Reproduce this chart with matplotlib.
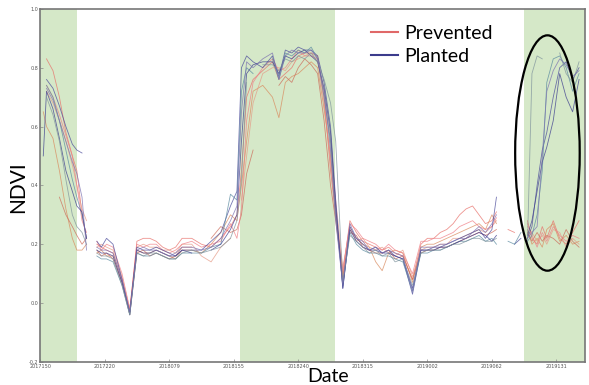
import numpy as np
import matplotlib
matplotlib.use("Agg")
import matplotlib.pyplot as plt
from matplotlib.patches import Ellipse

N = np.nan

# -------------------------
# DATES (tick units) + TICK LABELS
# -------------------------
t_a = [0.05, 0.1, 0.2, 0.3, 0.4, 0.5, 0.57, 0.65, 0.72]
t_b = [0.88, 0.95, 1.03, 1.13, 1.27, 1.39, 1.5, 1.6, 1.7, 1.8, 1.9, 2.0,
       2.1, 2.2, 2.35, 2.5, 2.65, 2.8, 2.95]
t_c = [3.05, 3.12, 3.2, 3.3, 3.45, 3.6, 3.7, 3.8, 3.9, 4.0, 4.1, 4.2,
       4.3, 4.4, 4.5, 4.58]
t_d = [4.69, 4.8, 4.9, 5.0, 5.1, 5.2, 5.3, 5.4, 5.5, 5.62, 5.77, 5.9,
       6.0, 6.1, 6.2, 6.3, 6.4, 6.5, 6.6, 6.7, 6.8, 6.9, 7.0, 7.07]
t_e = [7.25, 7.35, 7.45]
t_f = [7.55, 7.62, 7.7, 7.78, 7.85, 7.95, 8.05, 8.15, 8.25, 8.35]
dates = t_a + t_b + t_c + t_d + t_e + t_f

# acquisition gaps: lines are broken between these pieces
pieces = [len(t_a), len(t_b) + len(t_c) + len(t_d), len(t_e), len(t_f)]

tick_labels = ["2017150", "2017220", "2018079", "2018155", "2018240",
               "2018315", "2019002", "2019062", "2019131"]
y_ticks = [-0.2, 0.0, 0.2, 0.4, 0.6, 0.8, 1.0]

# growing seasons (shaded)
seasons = [(0.0, 0.57), (3.1, 4.57), (7.49, 8.44)]

# -------------------------
# PREVENTED (red) SERIES
# -------------------------
prevented_1 = ([N, 0.83, 0.79, 0.70, 0.58, 0.50, 0.45, 0.30, 0.22]
               + [0.20, 0.19, 0.18, 0.17, 0.08, -0.03, 0.21, 0.22, 0.22, 0.21, 0.19, 0.18, 0.19, 0.22, 0.22, 0.20, 0.19, 0.22, 0.26]
               + [0.30, 0.45, 0.70, 0.76, 0.79, 0.82, 0.76, 0.78, 0.80, 0.84, 0.85, 0.85, 0.84, 0.70, 0.45, 0.30]
               + [0.10, 0.28, 0.24, 0.21, 0.20, 0.19, 0.18, 0.19, 0.17, 0.16, 0.08, 0.20, 0.22, 0.22, 0.24, 0.25, 0.27, 0.30, 0.32, 0.33, 0.30, 0.27, 0.28, 0.31]
               + [0.25, 0.24, N]
               + [0.28, 0.22, 0.20, 0.26, 0.22, 0.28, 0.22, 0.20, 0.24, 0.28])
prevented_2 = ([0.65, 0.60, 0.56, 0.45, 0.32, 0.22, 0.18, 0.18, 0.20]
               + [0.17, 0.18, 0.16, 0.16, 0.07, -0.03, 0.18, 0.17, 0.17, 0.18, 0.17, 0.16, 0.15, 0.18, 0.18, 0.17, 0.20, 0.24, 0.30]
               + [0.28, 0.40, 0.55, 0.72, 0.74, 0.70, 0.63, 0.75, 0.77, 0.78, 0.80, 0.82, 0.80, 0.66, 0.50, 0.32]
               + [0.08, 0.25, 0.22, 0.20, 0.19, 0.14, 0.11, 0.17, 0.18, 0.17, 0.07, 0.19, 0.20, 0.20, 0.21, 0.22, 0.23, 0.24, 0.25, 0.26, 0.27, 0.25, 0.30, 0.27]
               + [N, N, N]
               + [0.25, 0.20, 0.22, 0.19, 0.25, 0.27, 0.21, 0.23, 0.20, 0.21])
prevented_3 = ([N, 0.72, 0.68, 0.62, 0.55, 0.47, 0.40, 0.32, 0.28]
               + [0.19, 0.20, 0.19, 0.18, 0.09, -0.02, 0.19, 0.20, 0.19, 0.19, 0.18, 0.18, 0.17, 0.20, 0.20, 0.16, 0.14, 0.19, 0.22]
               + [N, 0.35, 0.50, 0.68, 0.78, 0.80, 0.80, 0.79, 0.82, 0.83, 0.84, 0.85, 0.82, 0.72, 0.55, 0.35]
               + [0.12, 0.26, 0.21, 0.22, 0.19, 0.18, 0.19, 0.17, 0.16, 0.18, 0.09, 0.18, 0.19, 0.19, 0.20, 0.20, 0.22, 0.22, 0.23, 0.24, 0.25, 0.24, 0.26, 0.28]
               + [N, N, N]
               + [0.26, 0.24, 0.21, 0.23, 0.20, 0.25, 0.24, 0.19, 0.22, 0.20])
prevented_4 = ([N, N, N, 0.36, 0.30, 0.26, 0.23, 0.20, 0.22]
               + [0.18, 0.16, 0.17, 0.15, 0.07, -0.04, 0.17, 0.18, 0.16, 0.17, 0.16, 0.15, 0.16, 0.19, 0.19, N, 0.22, 0.26, 0.24]
               + [0.25, 0.30, 0.44, 0.52, N, N, 0.74, 0.77, 0.75, 0.80, 0.83, 0.81, 0.78, 0.62, 0.40, 0.28]
               + [0.09, 0.24, 0.23, 0.19, 0.18, 0.17, 0.17, 0.18, 0.15, 0.16, 0.08, 0.17, 0.18, 0.18, 0.19, 0.19, 0.20, 0.21, 0.22, 0.23, 0.24, 0.23, 0.24, 0.25]
               + [N, N, N]
               + [0.24, 0.21, 0.24, 0.21, 0.23, 0.22, 0.20, 0.25, 0.21, 0.19])
prevented_5 = ([N, 0.74, 0.70, 0.64, 0.57, 0.50, 0.40, 0.28, 0.24]
               + [0.21, 0.18, 0.20, 0.19, 0.10, -0.02, 0.20, 0.19, 0.20, 0.20, 0.18, 0.17, 0.18, 0.20, 0.21, 0.19, 0.20, 0.21, 0.27]
               + [0.22, 0.32, 0.62, 0.75, 0.80, 0.83, 0.79, 0.80, 0.83, 0.86, 0.84, 0.84, 0.83, 0.68, 0.48, 0.30]
               + [0.11, 0.27, 0.25, 0.22, 0.21, 0.20, 0.18, 0.20, 0.18, 0.17, 0.10, 0.21, 0.21, 0.22, 0.22, 0.23, 0.24, 0.26, 0.27, 0.28, 0.26, 0.25, 0.26, 0.29]
               + [N, N, N]
               + [0.27, 0.23, 0.19, 0.24, 0.21, 0.26, 0.23, 0.21, 0.23, 0.22])

# -------------------------
# PLANTED (blue) SERIES
# -------------------------
planted_1 = ([N, 0.76, 0.73, 0.67, 0.60, 0.54, 0.52, 0.51, N]
             + [0.21, 0.19, 0.22, 0.20, 0.08, -0.04, 0.19, 0.18, 0.18, 0.19, 0.18, 0.17, 0.16, 0.18, 0.18, 0.18, 0.21, 0.24, 0.33]
             + [0.38, 0.80, 0.84, 0.82, 0.80, 0.84, 0.77, 0.86, 0.85, 0.87, 0.86, 0.86, 0.84, 0.75, 0.60, 0.35]
             + [0.05, 0.26, 0.22, 0.20, 0.18, 0.19, 0.17, 0.18, 0.16, 0.15, 0.03, 0.18, 0.18, 0.19, 0.19, 0.20, 0.21, 0.22, 0.23, 0.24, 0.25, 0.22, 0.25, 0.36]
             + [N, 0.20, 0.22]
             + [0.22, 0.26, 0.40, 0.52, 0.58, 0.70, 0.80, 0.82, 0.76, 0.80])
planted_2 = ([N, 0.74, 0.70, 0.62, 0.52, 0.42, 0.36, 0.30, 0.22]
             + [0.16, 0.15, 0.15, 0.14, 0.06, -0.04, 0.17, 0.16, 0.16, 0.17, 0.16, 0.15, 0.15, 0.17, 0.17, 0.17, 0.19, 0.20, 0.37]
             + [0.35, 0.72, 0.80, 0.78, N, 0.83, 0.76, 0.85, 0.84, 0.86, 0.85, 0.87, 0.83, 0.70, 0.55, 0.30]
             + [0.06, 0.24, 0.20, 0.18, 0.17, 0.17, 0.16, 0.16, 0.15, 0.14, 0.04, 0.17, 0.17, 0.18, 0.18, 0.19, 0.20, 0.21, 0.21, 0.22, 0.23, 0.21, 0.22, 0.20]
             + [0.21, 0.20, 0.24]
             + [0.21, 0.23, 0.30, 0.45, 0.75, 0.83, 0.84, 0.80, 0.72, 0.78])
planted_3 = ([0.50, 0.72, 0.66, 0.56, 0.45, 0.38, 0.33, 0.31, 0.22]
             + [0.18, 0.17, 0.17, 0.16, 0.07, -0.03, 0.18, 0.17, 0.17, 0.18, 0.17, 0.16, 0.16, 0.18, 0.17, N, 0.18, 0.20, 0.25]
             + [0.30, 0.55, 0.78, 0.81, 0.82, 0.82, 0.78, 0.84, 0.83, 0.85, 0.86, 0.84, 0.82, 0.73, 0.58, 0.33]
             + [0.05, 0.25, 0.21, 0.19, 0.18, 0.18, 0.17, 0.17, 0.16, 0.15, 0.05, 0.18, 0.18, 0.18, 0.19, 0.19, 0.20, 0.21, 0.22, 0.23, 0.24, 0.23, 0.21, 0.23]
             + [N, N, N]
             + [0.23, 0.28, 0.38, 0.48, 0.53, 0.62, 0.78, 0.70, 0.65, 0.76])
planted_4 = ([N, 0.70, 0.64, 0.55, 0.42, 0.30, 0.26, 0.24, 0.20]
             + [0.17, 0.16, 0.16, 0.15, 0.06, -0.04, 0.17, 0.16, 0.17, 0.17, 0.16, 0.15, 0.15, 0.17, 0.18, 0.17, 0.18, 0.19, 0.22]
             + [0.28, 0.42, 0.75, N, 0.81, 0.81, 0.79, 0.83, 0.82, 0.84, 0.83, 0.85, 0.82, 0.76, 0.68, 0.55]
             + [0.07, 0.23, 0.21, 0.19, 0.17, 0.18, 0.16, 0.17, 0.14, 0.15, 0.06, 0.17, 0.18, 0.18, 0.18, 0.19, 0.20, 0.20, 0.21, 0.22, 0.22, 0.21, 0.21, 0.22]
             + [N, N, N]
             + [0.20, 0.78, 0.84, 0.83, N, N, 0.85, 0.78, 0.75, 0.82])
planted_5 = ([N, 0.73, 0.69, 0.62, 0.55, 0.48, 0.44, 0.36, 0.18]
             + [0.19, 0.18, 0.18, 0.17, 0.08, -0.03, 0.18, 0.19, 0.18, 0.18, 0.17, 0.16, 0.17, 0.19, 0.19, 0.18, 0.19, 0.22, 0.28]
             + [0.33, 0.65, 0.82, 0.80, 0.83, 0.85, 0.76, 0.84, 0.86, 0.85, 0.85, 0.86, 0.83, 0.72, 0.52, 0.28]
             + [0.06, 0.27, 0.22, 0.21, 0.18, 0.19, 0.17, 0.18, 0.17, 0.16, 0.04, 0.19, 0.19, 0.19, 0.20, 0.20, 0.21, 0.22, 0.22, 0.24, 0.26, 0.24, 0.27, 0.30]
             + [N, N, N]
             + [0.22, 0.24, 0.26, 0.50, 0.72, 0.79, 0.83, 0.81, 0.77, 0.79])

prevented = [prevented_1, prevented_2, prevented_3, prevented_4, prevented_5]
planted = [planted_1, planted_2, planted_3, planted_4, planted_5]

red_shades = ["#e8706a", "#d98a5e", "#e59a86", "#cc6b5a", "#f07f86"]
blue_shades = ["#4a4a9a", "#5a8aa0", "#3d3d8f", "#7f939c", "#7a70b0"]

# -------------------------
# PLOT
# -------------------------
fig = plt.figure(figsize=(5.89, 3.85), dpi=100)
ax = fig.add_axes([0.068, 0.06, 0.925, 0.917])

for x0, x1 in seasons:
    ax.axvspan(x0, x1, color="#d5e8c8", lw=0, zorder=0)


def draw(series, colors, z):
    for vals, col in zip(series, colors):
        start = 0
        for n in pieces:
            ax.plot(dates[start:start + n], vals[start:start + n], color=col,
                    lw=0.6, alpha=0.75, zorder=z)
            start += n


draw(prevented, red_shades, 2)
draw(planted, blue_shades, 3)

ax.add_patch(Ellipse((7.86, 0.51), 1.0, 0.80, fill=False, ec="black",
                     lw=1.6, zorder=5))

ax.set_xlim(0, 8.44)
ax.set_ylim(-0.2, 1.0)
ax.set_xticks(range(len(tick_labels)))
ax.set_xticklabels(tick_labels, fontsize=3.5, color="#555555")
ax.set_yticks(y_ticks)
ax.set_yticklabels([f"{v:.1f}" for v in y_ticks], fontsize=3.5, color="#555555")
ax.tick_params(direction="in", length=2, width=0.5, pad=1.5, color="#888888")
for s in ax.spines.values():
    s.set_color("#777777")
    s.set_linewidth(1.2)

ax.set_xlabel("Date", family="Lato", fontsize=14)
ax.xaxis.set_label_coords(0.528, -0.016)
ax.set_ylabel("NDVI", family="Lato", fontsize=15)
ax.yaxis.set_label_coords(-0.022, 0.496)

h1, = ax.plot([], [], color="#e06868", lw=1.5)
h2, = ax.plot([], [], color="#3b3b8c", lw=1.5)
ax.legend([h1, h2], ["Prevented", "Planted"], loc="upper left",
          bbox_to_anchor=(0.6, 0.965), frameon=False,
          prop={"family": "Lato", "size": 14}, handlelength=1.4,
          handletextpad=0.3, labelspacing=0.3, borderpad=0.2,
          borderaxespad=0)

fig.savefig("out.png", dpi=100)
